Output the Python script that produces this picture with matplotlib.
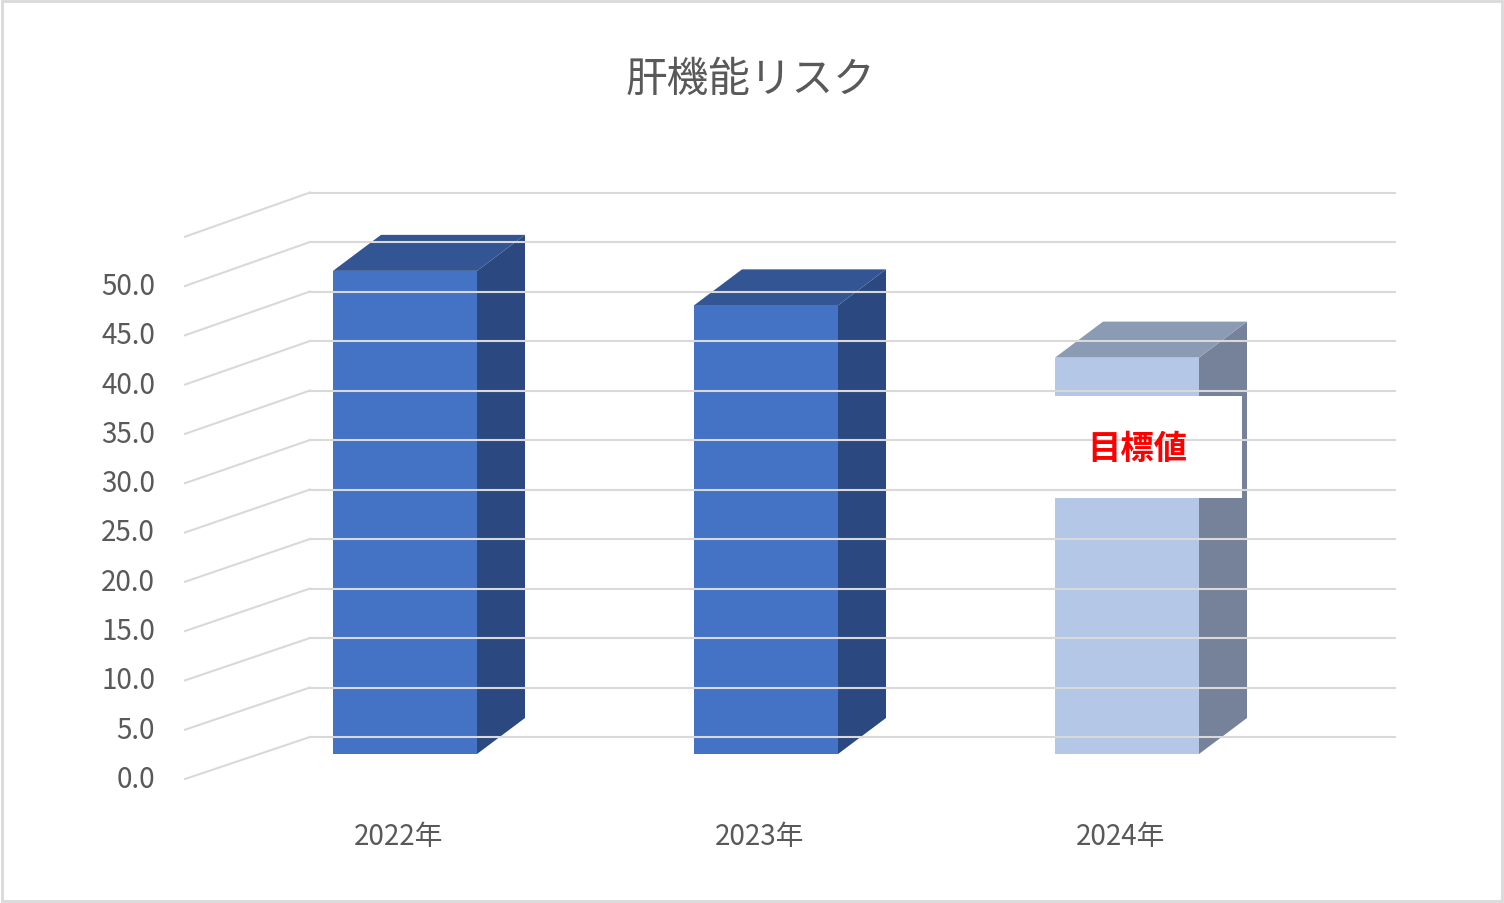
import matplotlib
matplotlib.use("Agg")
import matplotlib.pyplot as plt
from matplotlib.patches import Polygon, Rectangle

plt.rcParams['font.family'] = ['Noto Sans CJK JP', 'DejaVu Sans']

categories = ["2022年", "2023年", "2024年"]
values = [49.0, 45.5, 40.2]
ticks = [0, 5, 10, 15, 20, 25, 30, 35, 40, 45, 50]
title = "肝機能リスク"
note = "目標値"

fig = plt.figure(figsize=(15.04, 9.04), dpi=100)
ax = fig.add_axes([0, 0, 1, 1])
ax.set_xlim(0, 1504); ax.set_ylim(904, 0); ax.axis("off")
ax.add_patch(Rectangle((2, 2), 1500, 900, fill=False, ec="#D9D9D9", lw=2))

grid = "#D9D9D9"
def front_y(v): return 780 - v * 9.86
def back_y(v): return 738 - v * 9.9

for v in ticks + [55]:
    ax.plot([185, 310], [front_y(v), back_y(v)], color=grid, lw=1.5)
    ax.plot([310, 1395], [back_y(v), back_y(v)], color=grid, lw=1.5)
for v in ticks:
    ax.text(155, front_y(v), f"{v:.1f}", ha="right", va="center", fontsize=20, color="#595959")

lefts = [333, 694, 1055]
w, dx, dy = 144, 48, -36
base = 755
cols = [("#4472C4", "#335594", "#2B4880")] * 2 + [("#B4C7E7", "#8B9BB4", "#76829A")]
for x0, v, (cf, ct, cs), lab in zip(lefts, values, cols, categories):
    top = base - v * 9.86
    ax.add_patch(Polygon([(x0 + w, base), (x0 + w + dx, base + dy), (x0 + w + dx, top + dy), (x0 + w, top)], fc=cs, ec="none"))
    ax.add_patch(Polygon([(x0, top), (x0 + w, top), (x0 + w + dx, top + dy), (x0 + dx, top + dy)], fc=ct, ec="none"))
    ax.add_patch(Rectangle((x0, top), w, base - top, fc=cf, ec="none"))
    ax.text(x0 + w / 2 - 6, 837, lab, ha="center", va="center", fontsize=20, color="#595959")

ax.add_patch(Rectangle((1036, 397), 206, 102, fc="white", ec="none"))
ax.text(1137, 450, note, ha="center", va="center", fontsize=24, color="#FF0000", fontweight="bold")
ax.text(750, 80, title, ha="center", va="center", fontsize=30, color="#595959")

fig.savefig("out.png", dpi=100)
